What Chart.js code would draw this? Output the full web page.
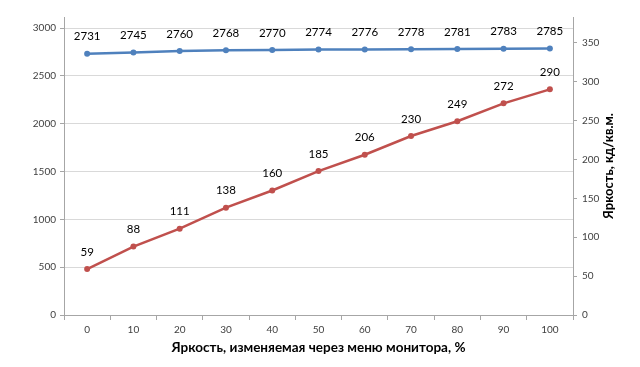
<!DOCTYPE html>
<html><head><meta charset="utf-8">
<script src="https://cdn.jsdelivr.net/npm/chart.js@4/dist/chart.umd.min.js"></script>
<style>html,body{margin:0;padding:0;background:#fff}#w{width:640px;height:367px}</style>
</head><body><div id="w"><canvas id="c" width="640" height="367"></canvas></div>
<script>
const categories = ['0','10','20','30','40','50','60','70','80','90','100'];
const resolution = [2731,2745,2760,2768,2770,2774,2776,2778,2781,2783,2785];
const brightness = [59,88,111,138,160,185,206,230,249,272,290];
const leftTicks = [0,500,1000,1500,2000,2500,3000];
const rightTicks = [0,50,100,150,200,250,300,350];
const xTitle = 'Яркость, изменяемая через меню монитора, %';
const rightTitle = 'Яркость, кд/кв.м.';
const FONT = 'Lato, "Open Sans", sans-serif';

const labelPlugin = {
  id: 'lbl',
  afterDatasetsDraw(chart) {
    const ctx = chart.ctx;
    ctx.save();
    ctx.font = '11.5px ' + FONT;
    ctx.fillStyle = '#000';
    ctx.textAlign = 'center';
    ctx.textBaseline = 'middle';
    chart.data.datasets.forEach((ds, i) => {
      const meta = chart.getDatasetMeta(i);
      meta.data.forEach((pt, j) => {
        ctx.fillText(String(ds.data[j]), pt.x, pt.y - 17);
      });
    });
    const s = chart.scales.y1;
    ctx.font = 'bold 13px ' + FONT;
    ctx.translate(609, (s.top + s.bottom) / 2);
    ctx.rotate(-Math.PI / 2);
    ctx.fillText(rightTitle, 0, 0);
    ctx.restore();
  }
};

const tickFont = {size: 10, family: FONT};
new Chart(document.getElementById('c'), {
  type: 'line',
  data: {
    labels: categories,
    datasets: [
      {data: resolution, yAxisID: 'y', borderColor: '#4F81BD', backgroundColor: '#4F81BD',
       borderWidth: 2.5, pointRadius: 3, pointBorderWidth: 0, tension: 0},
      {data: brightness, yAxisID: 'y1', borderColor: '#C0504D', backgroundColor: '#C0504D',
       borderWidth: 2.5, pointRadius: 3, pointBorderWidth: 0, tension: 0}
    ]
  },
  options: {
    responsive: false, animation: false, devicePixelRatio: 1,
    layout: {padding: {top: 17, left: 0, right: 0, bottom: 0}},
    plugins: {legend: {display: false}, tooltip: {enabled: false}},
    scales: {
      x: {
        offset: true,
        grid: {offset: true, drawOnChartArea: false, tickLength: 5, color: '#A6A6A6'},
        border: {color: '#A6A6A6'},
        ticks: {font: tickFont, color: '#404040', padding: 4, maxRotation: 0},
        title: {display: true, text: xTitle, font: {size: 13.5, weight: 'bold', family: FONT}, color: '#000', padding: {top: 0, bottom: 11}},
        afterFit(s) { s.height = 52; }
      },
      y: {
        position: 'left', min: 0, max: 3115, bounds: 'data',
        afterBuildTicks(s) { s.ticks = leftTicks.map(v => ({value: v})); },
        ticks: {font: tickFont, color: '#404040', padding: 4, callback: v => String(v)},
        grid: {color: '#D9D9D9', tickLength: 4, tickColor: '#A6A6A6'},
        border: {color: '#A6A6A6'},
        afterFit(s) { s.width = 64; }
      },
      y1: {
        position: 'right', min: 0, max: 383, bounds: 'data',
        afterBuildTicks(s) { s.ticks = rightTicks.map(v => ({value: v})); },
        ticks: {font: tickFont, color: '#404040', padding: 5, callback: v => String(v)},
        grid: {drawOnChartArea: false, tickLength: 4, color: '#A6A6A6'},
        border: {color: '#A6A6A6'},
        afterFit(s) { s.width = 67; }
      }
    }
  },
  plugins: [labelPlugin]
});
</script></body></html>
